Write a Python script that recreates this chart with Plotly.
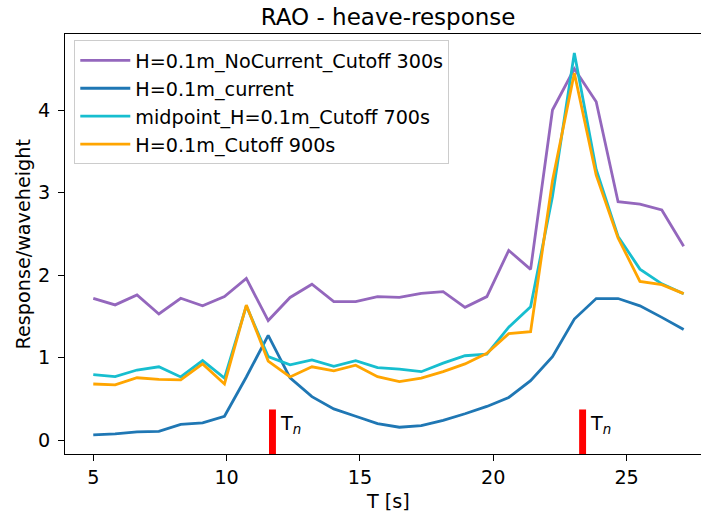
import plotly.graph_objects as go

# Wave periods [s]
T = [round(5 + 0.82 * i, 2) for i in range(28)]

# Heave RAO (response / wave height) per test series
nocurrent_300 = [1.72, 1.64, 1.76, 1.53, 1.72, 1.63, 1.74, 1.96, 1.45, 1.73,
                 1.89, 1.68, 1.68, 1.74, 1.73, 1.78, 1.80, 1.61, 1.74, 2.30,
                 2.07, 4.00, 4.50, 4.10, 2.89, 2.86, 2.79, 2.35]
current = [0.065, 0.078, 0.103, 0.108, 0.192, 0.212, 0.291, 0.767, 1.271, 0.757,
           0.529, 0.380, 0.291, 0.202, 0.158, 0.177, 0.242, 0.321, 0.410, 0.519,
           0.722, 1.014, 1.469, 1.717, 1.717, 1.628, 1.489, 1.341]
midpoint_700 = [0.796, 0.771, 0.851, 0.890, 0.767, 0.965, 0.752, 1.628, 1.014, 0.915,
                0.974, 0.895, 0.965, 0.880, 0.861, 0.831, 0.935, 1.024, 1.044, 1.370,
                1.618, 2.954, 4.690, 3.281, 2.469, 2.073, 1.895, 1.776]
cutoff_900 = [0.682, 0.672, 0.757, 0.737, 0.732, 0.925, 0.682, 1.638, 0.960, 0.767,
              0.890, 0.841, 0.910, 0.771, 0.712, 0.752, 0.831, 0.925, 1.054, 1.291,
              1.316, 3.143, 4.449, 3.212, 2.450, 1.925, 1.885, 1.776]

series_names = ["H=0.1m_NoCurrent_Cutoff 300s", "H=0.1m_current",
                "midpoint_H=0.1m_Cutoff 700s", "H=0.1m_Cutoff 900s"]
series_values = [nocurrent_300, current, midpoint_700, cutoff_900]
series_colors = ["#9467bd", "#1f77b4", "#17becf", "#ffa500"]

# Natural periods
Tn = [11.72, 23.35]

FONT = "DejaVu Sans"
FS = 19.2

fig = go.Figure()
for k, (name, vals, col) in enumerate(zip(series_names, series_values, series_colors)):
    fig.add_trace(go.Scatter(
        x=T, y=vals, mode="lines", name=name, legendgroup=f"g{k}",
        line=dict(color=col, width=2.8),
    ))

# Natural period markers
for tn in Tn:
    fig.add_shape(type="rect", xref="x", yref="y domain",
                  x0=tn - 0.13, x1=tn + 0.13, y0=0, y1=0.106,
                  fillcolor="red", line=dict(width=0), layer="above")
    fig.add_annotation(x=tn + 0.2, y=0.071, xref="x", yref="y domain",
                       text="T<sub><i>n</i></sub>", showarrow=False,
                       xanchor="left", yanchor="middle",
                       font=dict(family=FONT, size=FS, color="black"))

axis_common = dict(
    showgrid=False, zeroline=False, showline=True, linecolor="black",
    linewidth=1, ticks="outside", ticklen=6, tickwidth=1, tickcolor="black",
    tickfont=dict(family=FONT, size=FS, color="black"),
)

fig.update_xaxes(range=[3.94, 27.79], tickvals=[5, 10, 15, 20, 25],
                 mirror=True, **axis_common)
fig.update_yaxes(range=[-0.166, 4.921], tickvals=[0, 1, 2, 3, 4],
                 ticklabelstandoff=4, **axis_common)

# Axis titles
fig.add_annotation(x=0.508, y=-0.1136, xref="paper", yref="paper",
                   text="T [s]", showarrow=False, xanchor="center", yanchor="middle",
                   font=dict(family=FONT, size=FS, color="black"))
fig.add_annotation(x=-0.0653, y=0.5, xref="paper", yref="paper",
                   text="Response/waveheight", showarrow=False, textangle=-90,
                   xanchor="center", yanchor="middle",
                   font=dict(family=FONT, size=FS, color="black"))

fig.update_layout(
    width=702, height=515,
    margin=dict(l=65, r=1, t=34, b=61),
    paper_bgcolor="white", plot_bgcolor="white",
    title=dict(text="RAO - heave-response", x=0.508, xref="paper",
               y=1 - 17 / 515, yref="container", xanchor="center", yanchor="middle",
               font=dict(family=FONT, size=23, color="black")),
    legend=dict(x=0.0146, y=0.985, xanchor="left", yanchor="top",
                bgcolor="rgba(255,255,255,0.8)", bordercolor="#cccccc",
                borderwidth=1, tracegroupgap=0, itemwidth=50,
                font=dict(family=FONT, size=FS, color="black")),
    showlegend=True,
)

fig.write_html("out.html")
